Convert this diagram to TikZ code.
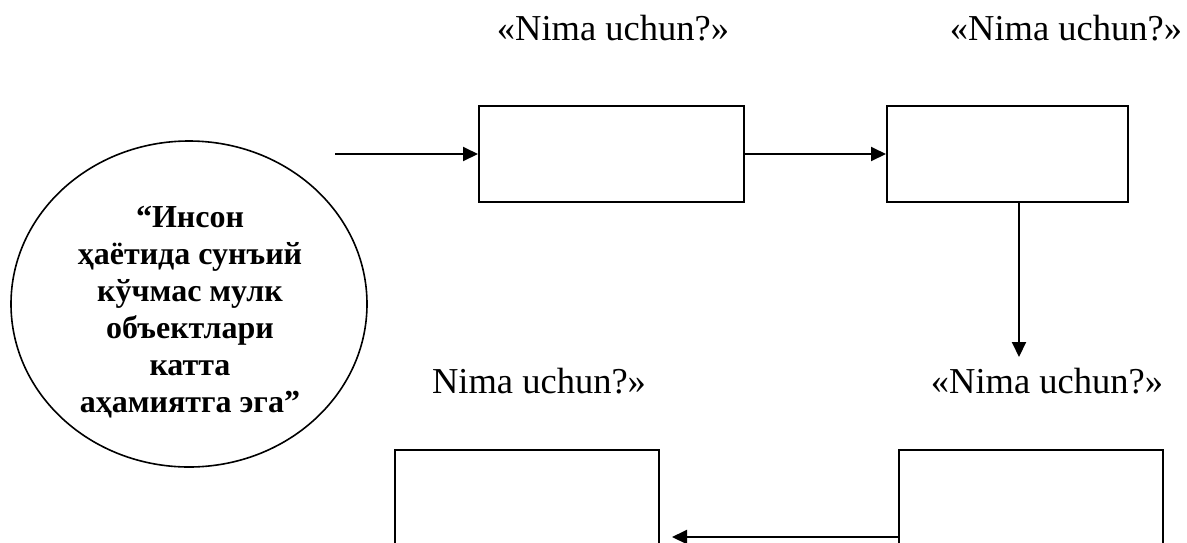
\documentclass[tikz,border=0pt]{standalone}
\usepackage{fontspec}
\setmainfont{Liberation Serif}
\usetikzlibrary{arrows.meta,shapes.geometric}
\tikzset{
  emptybox/.style={draw, line width=2pt, rectangle, inner sep=0pt, minimum height=96pt},
  arr/.style={line width=2pt, -{Triangle[length=15pt,width=14pt]}},
  qlabel/.style={anchor=base, inner sep=0pt, font=\fontsize{36.5}{40}\selectfont},
  oval/.style={draw, line width=1.6pt, ellipse, inner sep=0pt, minimum width=356pt, minimum height=326pt}
}
\begin{document}
\begin{tikzpicture}[x=1pt,y=-1pt]
\useasboundingbox (0,0) rectangle (1187,542);
\clip (0,0) rectangle (1187,542);
% ellipse
\node[oval] (circ) at (189,304) {};
\node[align=center, inner sep=0pt, font=\bfseries\fontsize{32}{37}\selectfont] (ctext) at (190,312)
  {“Инсон\\ҳаётида сунъий\\кўчмас мулк\\объектлари\\катта\\аҳамиятга эга”};
% boxes
\node[emptybox, minimum width=265pt] (b1) at (611.5,154) {};
\node[emptybox, minimum width=241pt] (b2) at (1007.5,154) {};
\node[emptybox, minimum width=264pt] (b3) at (527,498) {};
\node[emptybox, minimum width=264pt] (b4) at (1031,498) {};
% labels
\node[qlabel] (l1) at (613,40) {«Nima uchun?»};
\node[qlabel] (l2) at (1066,40) {«Nima uchun?»};
\node[qlabel] (l3) at (539,393) {Nima uchun?»};
\node[qlabel] (l4) at (1047,393) {«Nima uchun?»};
% connectors
\coordinate (s) at (335,154);
\coordinate (v) at (1019,357);
\coordinate (a) at (672,537);
\draw[arr] (s) -- (b1.west);
\draw[arr] (b1.east) -- (b2.west);
\draw[arr] (b2.south -| v) -- (v);
\draw[arr] (b4.west |- a) -- (a);
\end{tikzpicture}
\end{document}
